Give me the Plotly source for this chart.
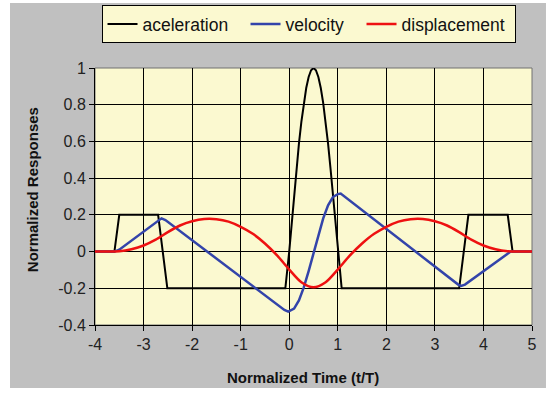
import plotly.graph_objects as go

# ---- data ----
acc_t = [-4, -3.6, -3.5, -2.7, -2.51, -0.08, 0.0, 0.05, 0.1, 0.15, 0.2, 0.25, 0.3, 0.35, 0.4,
         0.45, 0.5, 0.55, 0.6, 0.65, 0.7, 0.75, 0.8, 0.85, 0.9, 0.95, 1.0, 1.08,
         3.5, 3.69, 4.5, 4.6, 5]
acc_v = [0, 0, 0.2, 0.2, -0.2, -0.2, 0.0, 0.156, 0.309, 0.454, 0.588, 0.707, 0.809, 0.891, 0.951,
         0.988, 1.0, 0.988, 0.951, 0.891, 0.809, 0.707, 0.588, 0.454, 0.309, 0.156, 0.0, -0.2,
         -0.2, 0.2, 0.2, 0, 0]

vel_t = [-4, -3.6, -3.5, -2.7, -2.63, -2.55, -0.1, -0.02, 0.1, 0.2, 0.3, 0.4, 0.5, 0.6, 0.7,
         0.8, 0.9, 1.0, 1.06, 3.48, 3.54, 3.62, 4.5, 4.56, 5]
vel_v = [0, 0, 0.01, 0.17, 0.181, 0.172, -0.318, -0.327, -0.311, -0.266, -0.195, -0.106, -0.007,
         0.092, 0.181, 0.252, 0.297, 0.313, 0.316, -0.18, -0.187, -0.18, -0.01, 0, 0]

disp_t = [-4, -3.75, -3.5, -3.25, -3, -2.75, -2.5, -2.25, -2, -1.75, -1.5, -1.25, -1, -0.75,
          -0.5, -0.25, 0, 0.25, 0.5, 0.75, 1, 1.25, 1.5, 1.75, 2, 2.25, 2.5, 2.75, 3, 3.25,
          3.5, 3.75, 4, 4.25, 4.5, 4.75, 5]
disp_v = [0, 0, 0.002, 0.013, 0.033, 0.065, 0.106, 0.142, 0.165, 0.177, 0.176, 0.163, 0.135,
          0.097, 0.044, -0.021, -0.098, -0.167, -0.195, -0.167, -0.098, -0.021, 0.044, 0.097,
          0.135, 0.163, 0.176, 0.177, 0.165, 0.142, 0.106, 0.065, 0.033, 0.013, 0.002, 0, 0]

x_ticks = [-4, -3, -2, -1, 0, 1, 2, 3, 4, 5]
y_ticks = [-0.4, -0.2, 0, 0.2, 0.4, 0.6, 0.8, 1]

FONT = "Liberation Sans, Arial, sans-serif"
GRAY = "#C0C0C0"
YEL = "#FBF9D0"

fig = go.Figure()
fig.add_trace(go.Scatter(x=acc_t, y=acc_v, mode="lines", name="aceleration", legendwidth=98,
                         line=dict(color="#000000", width=2)))
fig.add_trace(go.Scatter(x=vel_t, y=vel_v, mode="lines", name="velocity", legendwidth=71,
                         line=dict(color="#3344AA", width=2.5)))
fig.add_trace(go.Scatter(x=disp_t, y=disp_v, mode="lines", name="displacement", legendwidth=108,
                         line=dict(color="#EE1111", width=2.5, shape="spline", smoothing=0.8)))

fig.update_layout(
    width=546, height=399,
    margin=dict(l=95, r=14, t=68, b=74, pad=0, autoexpand=False),
    paper_bgcolor="white",
    plot_bgcolor="rgba(0,0,0,0)",
    font=dict(family=FONT, size=16, color="#222222"),
    shapes=[
        dict(type="rect", xref="paper", yref="paper", x0=-0.1945, x1=1.032, y0=-0.245, y1=1.253,
             fillcolor=GRAY, line=dict(width=0), layer="below"),
        dict(type="rect", xref="paper", yref="paper", x0=0, x1=1, y0=0, y1=1,
             fillcolor=YEL, line=dict(width=1, color="#707070"), layer="below"),
    ],
    xaxis=dict(range=[-4, 5], tickvals=x_ticks, ticktext=[str(v) for v in x_ticks],
               showgrid=True, gridcolor="black", gridwidth=1, zeroline=False,
               showline=True, linecolor="black", linewidth=1,
               ticks="outside", ticklen=5, tickcolor="black",
               tickfont=dict(size=16, family=FONT, color="#222222")),
    yaxis=dict(range=[-0.4, 1], tickvals=y_ticks, ticktext=[f"{v:g}" for v in y_ticks],
               showgrid=True, gridcolor="black", gridwidth=1, zeroline=False,
               showline=True, linecolor="black", linewidth=1,
               ticks="outside", ticklen=5, tickcolor="black",
               tickfont=dict(size=16, family=FONT, color="#222222")),
    legend=dict(orientation="h", x=0.4886, xanchor="center", y=1.245, yanchor="top",
                bgcolor=YEL, bordercolor="black", borderwidth=1,
                font=dict(size=17.5, family=FONT, color="#111111")),
    annotations=[
        dict(text="<b>Normalized Time (t/T)</b>", xref="paper", yref="paper",
             x=0.476, y=-0.206, xanchor="center", yanchor="middle", showarrow=False,
             font=dict(size=15, family=FONT, color="#111111")),
        dict(text="<b>Normalized Responses</b>", xref="paper", yref="paper",
             x=-0.144, y=0.525, xanchor="center", yanchor="middle", showarrow=False,
             textangle=-90, font=dict(size=15, family=FONT, color="#111111")),
    ],
)

fig.write_html("out.html")
